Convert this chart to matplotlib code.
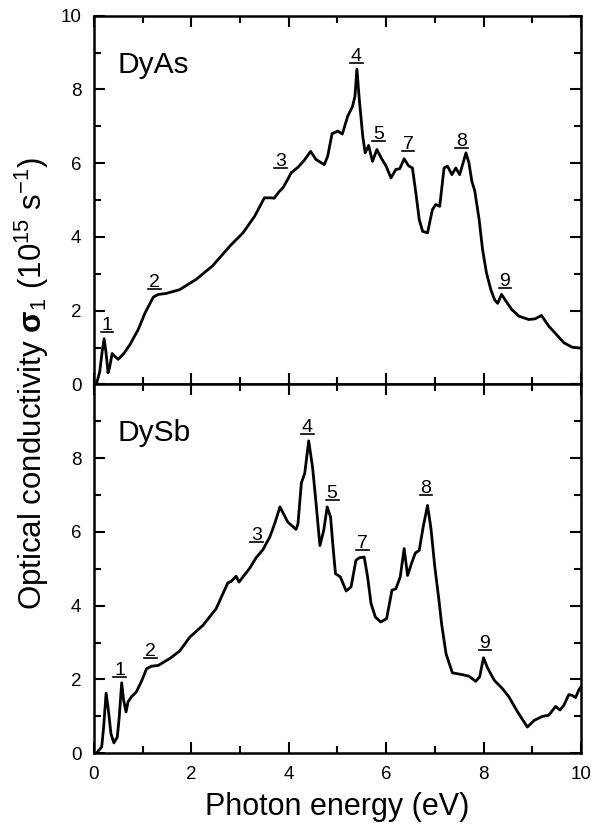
import numpy as np
import matplotlib
matplotlib.use("Agg")
import matplotlib.pyplot as plt
from matplotlib.lines import Line2D
from matplotlib.ticker import MultipleLocator

plt.rcParams['font.family'] = ['Liberation Sans', 'DejaVu Sans']
plt.rcParams['mathtext.fontset'] = 'custom'
plt.rcParams['mathtext.rm'] = 'Liberation Sans'
plt.rcParams['mathtext.it'] = 'Liberation Sans:italic'
plt.rcParams['mathtext.bf'] = 'Liberation Sans:bold'

# ----------------------------
# DATA: optical conductivity (10^15 s^-1) vs photon energy (eV)
# ----------------------------
energy_dyas = [0.05, 0.12, 0.17, 0.21, 0.25, 0.29, 0.32, 0.375, 0.43, 0.50,
               0.62, 0.74, 0.91, 1.05, 1.22, 1.32, 1.49, 1.76, 2.10, 2.44,
               2.79, 3.06, 3.30, 3.50, 3.64, 3.70, 3.81, 3.88, 3.98, 4.05,
               4.19, 4.32, 4.45, 4.56, 4.73, 4.80, 4.89, 5.01, 5.10, 5.21,
               5.31, 5.36, 5.40, 5.45, 5.52, 5.57, 5.64, 5.72, 5.81, 5.90,
               6.00, 6.10, 6.20, 6.28, 6.37, 6.46, 6.54, 6.61, 6.68, 6.75,
               6.85, 6.95, 7.02, 7.10, 7.19, 7.26, 7.35, 7.43, 7.51, 7.64,
               7.70, 7.76, 7.82, 7.91, 7.98, 8.06, 8.15, 8.23, 8.29, 8.37,
               8.46, 8.58, 8.73, 8.93, 9.06, 9.19, 9.34, 9.48, 9.65, 9.82,
               9.96, 10.0]
sigma_dyas = [0.00, 0.35, 0.90, 1.24, 0.85, 0.32, 0.45, 0.84, 0.76, 0.68,
              0.85, 1.08, 1.49, 1.94, 2.37, 2.44, 2.47, 2.57, 2.85, 3.22,
              3.75, 4.11, 4.56, 5.06, 5.06, 5.05, 5.24, 5.33, 5.56, 5.74,
              5.89, 6.08, 6.32, 6.10, 5.96, 6.19, 6.80, 6.87, 6.79, 7.27,
              7.54, 7.81, 8.55, 7.72, 6.73, 6.28, 6.48, 6.05, 6.37, 6.14,
              5.92, 5.60, 5.83, 5.85, 6.12, 5.93, 5.87, 5.20, 4.47, 4.15,
              4.11, 4.74, 4.88, 4.83, 5.87, 5.92, 5.69, 5.87, 5.69, 6.28,
              6.01, 5.51, 5.25, 4.47, 3.66, 3.03, 2.57, 2.29, 2.20, 2.44,
              2.26, 2.03, 1.85, 1.76, 1.78, 1.87, 1.58, 1.38, 1.13, 1.01,
              0.99, 0.98]

energy_dysb = [0.05, 0.16, 0.20, 0.25, 0.29, 0.35, 0.41, 0.48, 0.52, 0.57,
               0.61, 0.66, 0.70, 0.77, 0.87, 0.98, 1.08, 1.18, 1.32, 1.56,
               1.76, 1.97, 2.24, 2.51, 2.65, 2.75, 2.82, 2.92, 2.98, 3.06,
               3.20, 3.33, 3.47, 3.61, 3.71, 3.82, 3.89, 3.98, 4.15, 4.19,
               4.26, 4.33, 4.41, 4.49, 4.56, 4.64, 4.72, 4.79, 4.86, 4.91,
               4.96, 5.06, 5.18, 5.28, 5.38, 5.45, 5.55, 5.62, 5.69, 5.78,
               5.89, 6.01, 6.12, 6.20, 6.29, 6.37, 6.44, 6.53, 6.60, 6.68,
               6.76, 6.85, 6.92, 7.00, 7.08, 7.14, 7.23, 7.36, 7.53, 7.70,
               7.84, 7.92, 8.00, 8.08, 8.22, 8.39, 8.52, 8.70, 8.90, 9.04,
               9.21, 9.34, 9.48, 9.57, 9.65, 9.75, 9.82, 9.89, 9.97, 10.0]
sigma_dysb = [0.00, 0.17, 0.71, 1.63, 1.25, 0.53, 0.28, 0.44, 0.98, 1.91,
              1.44, 1.12, 1.39, 1.53, 1.66, 1.96, 2.29, 2.36, 2.38, 2.57,
              2.77, 3.15, 3.47, 3.92, 4.33, 4.62, 4.66, 4.80, 4.64, 4.78,
              5.02, 5.30, 5.52, 5.86, 6.22, 6.68, 6.50, 6.27, 6.07, 6.22,
              7.33, 7.60, 8.47, 7.75, 6.80, 5.63, 6.05, 6.68, 6.40, 5.59,
              4.87, 4.78, 4.40, 4.51, 5.23, 5.30, 5.32, 4.78, 4.06, 3.69,
              3.56, 3.65, 4.42, 4.46, 4.78, 5.55, 4.82, 5.18, 5.43, 5.50,
              6.13, 6.72, 6.10, 5.05, 4.20, 3.50, 2.70, 2.18, 2.14, 2.09,
              1.95, 2.07, 2.59, 2.32, 1.98, 1.75, 1.53, 1.12, 0.71, 0.89,
              1.00, 1.03, 1.27, 1.17, 1.30, 1.59, 1.57, 1.51, 1.75, 1.80]

# peak labels (underlined numbers) and where they sit
peaks_dyas = ['1', '2', '3', '4', '5', '7', '8', '9']
peak_x_dyas = [0.27, 1.24, 3.83, 5.39, 5.84, 6.45, 7.55, 8.44]
peak_y_dyas = [1.61, 2.77, 6.05, 8.89, 6.78, 6.50, 6.59, 2.80]

peaks_dysb = ['1', '2', '3', '4', '5', '7', '8', '9']
peak_x_dysb = [0.53, 1.17, 3.34, 4.38, 4.89, 5.52, 6.82, 8.03]
peak_y_dysb = [2.25, 2.77, 5.91, 8.84, 7.05, 5.68, 7.17, 2.97]

# ----------------------------
# PLOT
# ----------------------------
fig, (ax1, ax2) = plt.subplots(2, 1, sharex=True, figsize=(6.02, 8.25), dpi=100)
fig.subplots_adjust(left=0.156, right=0.965, bottom=0.087, top=0.981, hspace=0)

panels = [
    (ax1, energy_dyas, sigma_dyas, 'DyAs', peaks_dyas, peak_x_dyas, peak_y_dyas),
    (ax2, energy_dysb, sigma_dysb, 'DySb', peaks_dysb, peak_x_dysb, peak_y_dysb),
]

peak_texts = []
for ax, e, s, name, labels, lx, ly in panels:
    ax.plot(e, s, color='black', linewidth=2.0, solid_joinstyle='round')
    ax.set_xlim(0, 10)
    ax.set_ylim(0, 10)
    ax.xaxis.set_major_locator(MultipleLocator(2))
    ax.xaxis.set_minor_locator(MultipleLocator(1))
    ax.yaxis.set_major_locator(MultipleLocator(2))
    ax.yaxis.set_minor_locator(MultipleLocator(1))
    ax.tick_params(which='both', direction='in', top=True, right=True,
                   width=1.5, labelsize=13.5, pad=9)
    ax.tick_params(which='major', length=8)
    ax.tick_params(which='minor', length=5)
    for sp in ax.spines.values():
        sp.set_linewidth(1.8)
    ax.text(0.48, 8.67, name, fontsize=21.5, ha='left', va='center')
    for lab, x, y in zip(labels, lx, ly):
        peak_texts.append(ax.text(x, y, lab, fontsize=14,
                                  ha='center', va='center'))

ax1.tick_params(labelbottom=False)
ax2.set_yticks([0, 2, 4, 6, 8, 10])
ax2.set_yticklabels(['0', '2', '4', '6', '8', ''])

ax2.set_xlabel('Photon energy (eV)', fontsize=22, labelpad=7)
fig.text(0.053, 0.535,
         r'Optical conductivity $\mathbf{\sigma}_1$ (10$^{15}$ s$^{-1}$)',
         rotation=90, ha='center', va='center', fontsize=22.5)

# underline each peak number just below its glyph
fig.canvas.draw()
renderer = fig.canvas.get_renderer()
to_fig = fig.transFigure.inverted()
for t in peak_texts:
    bb = t.get_window_extent(renderer)
    (x0, y0), (x1, _) = to_fig.transform([(bb.x0 - 1, bb.y0 + 2),
                                          (bb.x1 + 1, bb.y0 + 2)])
    fig.add_artist(Line2D([x0, x1], [y0, y0], color='black', linewidth=1.2,
                          transform=fig.transFigure))

plt.savefig('out.png', dpi=100)
